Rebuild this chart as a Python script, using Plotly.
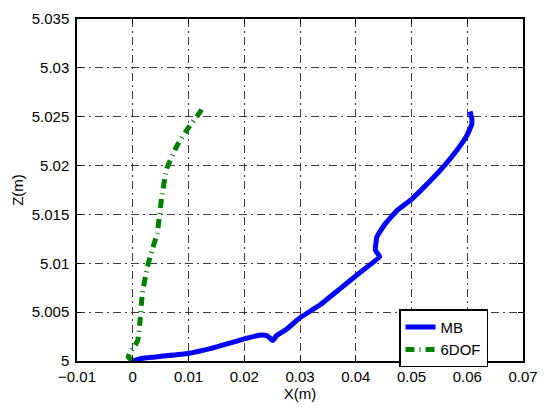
import plotly.graph_objects as go

# MB trajectory (X, Z in metres)
mb_x = [0.0000, 0.0020, 0.0054, 0.0099, 0.0139, 0.0174, 0.0210, 0.0231, 0.0240, 0.0246,
        0.0251, 0.0258, 0.0276, 0.0300, 0.0336, 0.0372, 0.0408, 0.0443, 0.0437, 0.0435,
        0.0438, 0.0453, 0.0474, 0.0500, 0.0527, 0.0557, 0.0581, 0.0599, 0.0608, 0.0608,
        0.0605]
mb_z = [5.00000, 5.00030, 5.00050, 5.00077, 5.00126, 5.00183, 5.00242, 5.00266, 5.00259, 5.00236,
        5.00210, 5.00259, 5.00326, 5.00442, 5.00575, 5.00741, 5.00907, 5.01067, 5.01117, 5.01140,
        5.01273, 5.01406, 5.01539, 5.01655, 5.01805, 5.01987, 5.02154, 5.02304, 5.02420, 5.02490,
        5.02553]

# 6DOF trajectory
dof_x = [0.0000, -0.0008, -0.0005, 0.0002, 0.0009, 0.0013, 0.0017, 0.0026, 0.0035, 0.0044,
         0.0052, 0.0061, 0.0079, 0.0099, 0.0121, 0.0126]
dof_z = [5.0000, 5.0004, 5.0009, 5.0014, 5.0021, 5.0041, 5.0068, 5.0096, 5.0114, 5.0131,
         5.0168, 5.0197, 5.0220, 5.0238, 5.0255, 5.0260]

x_ticks = [-0.01, 0, 0.01, 0.02, 0.03, 0.04, 0.05, 0.06, 0.07]
x_labels = ["\u22120.01", "0", "0.01", "0.02", "0.03", "0.04", "0.05", "0.06", "0.07"]
z_ticks = [5, 5.005, 5.01, 5.015, 5.02, 5.025, 5.03, 5.035]
z_labels = ["5", "5.005", "5.01", "5.015", "5.02", "5.025", "5.03", "5.035"]

font = dict(family="Liberation Sans, Arial, sans-serif", size=15, color="black")

fig = go.Figure()
fig.add_trace(go.Scatter(x=mb_x, y=mb_z, mode="lines", name="MB",
                         line=dict(color="#0000ff", width=5, shape="spline", smoothing=0.3)))
fig.add_trace(go.Scatter(x=dof_x, y=dof_z, mode="lines", name="6DOF",
                         line=dict(color="#008000", width=5, dash="9px,5px,1px,5px",
                                   shape="spline", smoothing=0.3)))

axis_common = dict(showline=True, linecolor="black", linewidth=1.5, mirror="ticks",
                   ticks="inside", ticklen=5, tickcolor="black",
                   showgrid=True, gridcolor="rgba(0,0,0,0.75)", gridwidth=1,
                   griddash="8px,4px,2px,4px", zeroline=False, tickfont=font)

fig.update_layout(
    width=551, height=407,
    margin=dict(l=77, r=28, t=10, b=46),
    paper_bgcolor="white", plot_bgcolor="white",
    font=font,
    xaxis=dict(range=[-0.01, 0.07], tickvals=x_ticks, ticktext=x_labels,
               ticklabelstandoff=1,
               title=dict(text="X(m)", standoff=0, font=font), **axis_common),
    yaxis=dict(range=[5.0, 5.035], tickvals=z_ticks, ticktext=z_labels,
               ticklabelstandoff=3,
               title=dict(text="Z(m)", standoff=4, font=font), **axis_common),
    legend=dict(x=0.722, y=0.151, xanchor="left", yanchor="top",
                bordercolor="black", borderwidth=1.5, bgcolor="white",
                font=dict(family="Liberation Sans, Arial, sans-serif", size=15, color="black"),
                tracegroupgap=0, itemwidth=30),
    showlegend=True,
)

fig.write_html("out.html")
